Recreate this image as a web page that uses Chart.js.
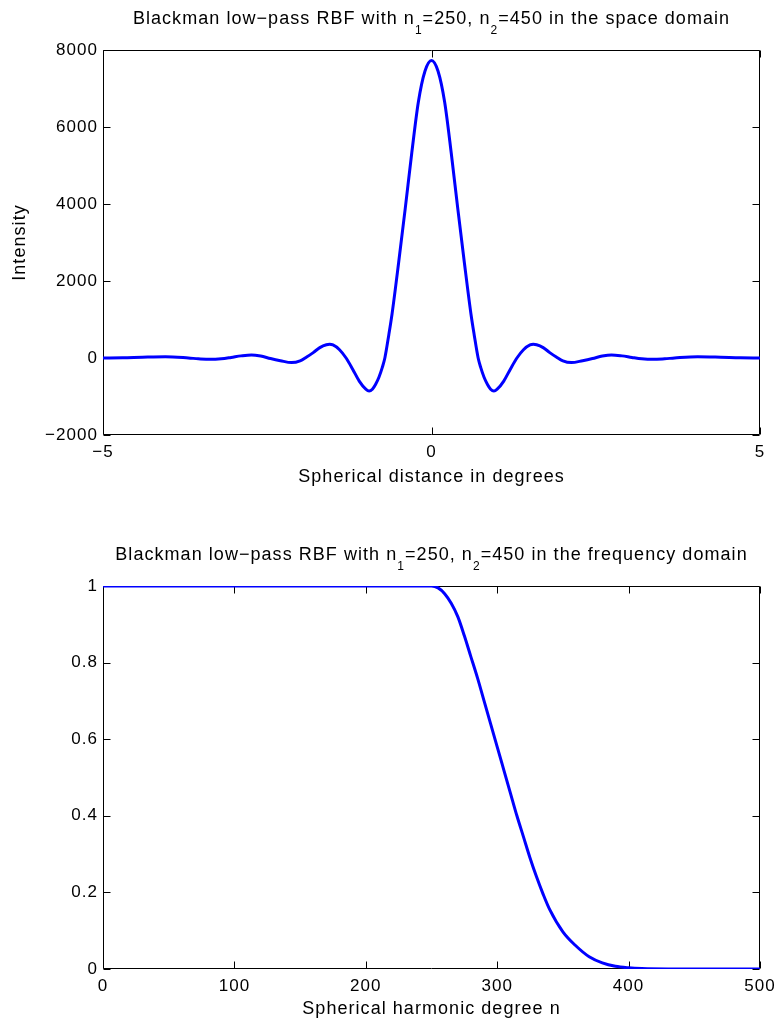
<!DOCTYPE html>
<html>
<head>
<meta charset="utf-8">
<title>Blackman low-pass RBF</title>
<script src="https://cdn.jsdelivr.net/npm/chart.js@4.4.1/dist/chart.umd.min.js"></script>
<style>
  body { margin: 0; background: #fff; }
  canvas { display: block; }
</style>
</head>
<body>
<canvas id="spaceChart" width="779" height="514"></canvas>
<canvas id="freqChart" width="779" height="514"></canvas>
<script>
// space domain (symmetric about 0)
var spaceX = [-5, -4.7, -4.4, -4.05, -3.7, -3.55, -3.37, -3.2, -3.05, -2.9, -2.74, -2.6, -2.45, -2.3, -2.13, -2.0, -1.9, -1.8, -1.7, -1.6, -1.55, -1.5, -1.4, -1.3, -1.2, -1.1, -1.0, -0.95, -0.9, -0.85, -0.8, -0.75, -0.71, -0.65, -0.6, -0.5, -0.4, -0.3, -0.2, -0.1,
              0,
              0.1, 0.2, 0.3, 0.4, 0.5, 0.6, 0.65, 0.71, 0.75, 0.8, 0.85, 0.9, 0.95, 1.0, 1.1, 1.2, 1.3, 1.4, 1.5, 1.55, 1.6, 1.7, 1.8, 1.9, 2.0, 2.13, 2.3, 2.45, 2.6, 2.74, 2.9, 3.05, 3.2, 3.37, 3.55, 3.7, 4.05, 4.4, 4.7, 5];
var spaceY = [0, 5, 20, 32, 0, -20, -35, -20, 15, 55, 80, 50, -15, -70, -120, -75, 25, 140, 270, 345, 355, 340, 215, 0, -290, -600, -810, -860, -810, -680, -500, -250, 0, 600, 1150, 2480, 3880, 5330, 6650, 7450,
              7730,
              7450, 6650, 5330, 3880, 2480, 1150, 600, 0, -250, -500, -680, -810, -860, -810, -600, -290, 0, 215, 340, 355, 345, 270, 140, 25, -75, -120, -70, -15, 50, 80, 55, 15, -20, -35, -20, 0, 32, 20, 5, 0];

// frequency domain
var freqN = [0, 250, 255, 260, 265, 270, 275, 280, 285, 290, 295, 300, 305, 310, 315, 320, 325, 330, 335, 340, 350, 360, 370, 380, 390, 400, 410, 430, 500];
var freqV = [1, 1, 0.995, 0.98, 0.955, 0.92, 0.87, 0.815, 0.76, 0.70, 0.64, 0.58, 0.52, 0.46, 0.40, 0.345, 0.29, 0.24, 0.195, 0.155, 0.097, 0.06, 0.032, 0.016, 0.007, 0.003, 0.001, 0, 0];

// titles: plain, subscript, plain, subscript, plain
var spaceTitle = ['Blackman low\u2212pass RBF with n', '1', '=250, n', '2', '=450 in the space domain'];
var freqTitle = ['Blackman low\u2212pass RBF with n', '1', '=250, n', '2', '=450 in the frequency domain'];

var FONT = "'Liberation Sans', Arial, Helvetica, sans-serif";
Chart.defaults.font.family = FONT;
Chart.defaults.color = '#000';

function toPoints(xs, ys) {
  return xs.map(function(x, i) { return { x: x, y: ys[i] }; });
}

function minusLabel(v) {
  return v < 0 ? '\u2212' + Math.abs(v) : '' + v;
}

// matlab text is spaced a bit wider
var wideText = {
  id: 'wideText',
  beforeDraw: function(chart) {
    chart.ctx.letterSpacing = '1.05px';
  }
};

// box + inward ticks like matlab
var matlabAxes = {
  id: 'matlabAxes',
  beforeDatasetsDraw: function(chart) {
    var a = chart.chartArea, ctx = chart.ctx;
    var l = Math.round(a.left) + 0.5, r = Math.round(a.right) - 0.5;
    var t = Math.round(a.top) + 0.5, b = Math.round(a.bottom) - 0.5;
    ctx.save();
    ctx.strokeStyle = '#000';
    ctx.lineWidth = 1;
    ctx.beginPath();
    ctx.rect(l, t, r - l, b - t);
    var xs = chart.scales.x, ys = chart.scales.y;
    xs.ticks.forEach(function(tk) {
      var px = Math.round(xs.getPixelForValue(tk.value)) + 0.5;
      ctx.moveTo(px, b); ctx.lineTo(px, b - 7);
      ctx.moveTo(px, t); ctx.lineTo(px, t + 7);
    });
    ys.ticks.forEach(function(tk) {
      var py = Math.round(ys.getPixelForValue(tk.value)) + 0.5;
      ctx.moveTo(l, py); ctx.lineTo(l + 7, py);
      ctx.moveTo(r, py); ctx.lineTo(r - 7, py);
    });
    ctx.stroke();
    ctx.restore();
  }
};

// title with subscripts
var subTitle = {
  id: 'subTitle',
  afterDraw: function(chart, args, opts) {
    var parts = opts.parts;
    if (!parts) return;
    var ctx = chart.ctx, a = chart.chartArea;
    var mainFont = '18px ' + FONT, subFont = '12px ' + FONT;
    ctx.save();
    ctx.fillStyle = '#000';
    ctx.textBaseline = 'alphabetic';
    ctx.textAlign = 'left';
    var total = 0;
    parts.forEach(function(p, i) {
      ctx.font = i % 2 ? subFont : mainFont;
      total += ctx.measureText(p).width;
    });
    var x = (a.left + a.right) / 2 - total / 2;
    var y = a.top - 26;
    parts.forEach(function(p, i) {
      ctx.font = i % 2 ? subFont : mainFont;
      ctx.fillText(p, x, i % 2 ? y + 10 : y);
      x += ctx.measureText(p).width;
    });
    ctx.restore();
  }
};

function makeChart(id, pts, opt) {
  var cfg = {
    type: 'line',
    data: {
      datasets: [{
        data: pts,
        borderColor: '#0000ff',
        borderWidth: 3,
        pointRadius: 0,
        fill: false,
        cubicInterpolationMode: 'monotone'
      }]
    },
    options: {
      responsive: false,
      animation: false,
      layout: { padding: { top: opt.top, right: 19, left: 0, bottom: 0 } },
      plugins: {
        legend: { display: false },
        tooltip: { enabled: false },
        subTitle: { parts: opt.title }
      },
      scales: {
        x: {
          type: 'linear',
          min: opt.xMin, max: opt.xMax,
          grid: { display: false, drawTicks: false },
          border: { display: false },
          ticks: { stepSize: opt.xStep, font: { size: 17 }, padding: 7, maxRotation: 0, callback: opt.xFmt },
          title: { display: true, text: opt.xTitle, font: { size: 18 }, padding: { top: 0, bottom: opt.xTitlePad } },
          afterFit: function(s) { s.height = opt.xAxisH; s.paddingLeft = 0; s.paddingRight = 0; }
        },
        y: {
          min: opt.yMin, max: opt.yMax,
          grid: { display: false, drawTicks: false },
          border: { display: false },
          ticks: { stepSize: opt.yStep, font: { size: 17 }, padding: 5, callback: opt.yFmt },
          title: { display: !!opt.yTitle, text: opt.yTitle || '', font: { size: 18 }, padding: { top: 9, bottom: 0 } },
          afterFit: function(s) { s.width = 103; s.paddingTop = 0; s.paddingBottom = 0; }
        }
      }
    },
    plugins: [wideText, matlabAxes, subTitle]
  };
  return new Chart(document.getElementById(id), cfg);
}

makeChart('spaceChart', toPoints(spaceX, spaceY), {
  top: 50, xAxisH: 79, xTitlePad: 26,
  xMin: -5, xMax: 5, xStep: 5, xFmt: minusLabel,
  yMin: -2000, yMax: 8000, yStep: 2000, yFmt: minusLabel,
  xTitle: 'Spherical distance in degrees',
  yTitle: 'Intensity',
  title: spaceTitle
});

makeChart('freqChart', toPoints(freqN, freqV), {
  top: 72, xAxisH: 59, xTitlePad: 8,
  xMin: 0, xMax: 500, xStep: 100, xFmt: function(v) { return '' + v; },
  yMin: 0, yMax: 1, yStep: 0.2, yFmt: function(v) { return '' + Math.round(v * 10) / 10; },
  xTitle: 'Spherical harmonic degree n',
  title: freqTitle
});
</script>
</body>
</html>
